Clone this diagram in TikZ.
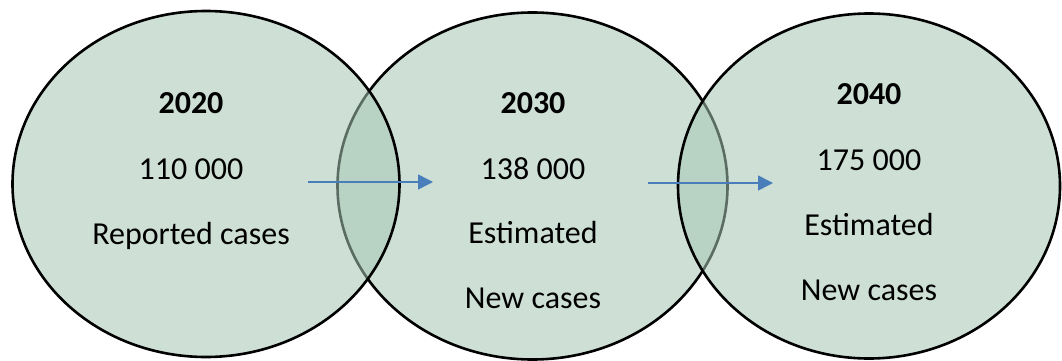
\documentclass[tikz,border=0pt]{standalone}
\usepackage{fontspec}
\setmainfont{Carlito}
\usetikzlibrary{shapes.geometric,arrows.meta}
\definecolor{venn}{RGB}{166,199,182}
\definecolor{arrowblue}{RGB}{74,126,187}
\tikzset{
  bubble/.style={ellipse, draw=black, line width=2.6pt, fill=venn, fill opacity=0.55, inner sep=0pt},
  lbl/.style={anchor=base, font=\fontsize{32}{36}\selectfont, inner sep=0pt},
  yr/.style={lbl, font=\fontsize{32}{36}\selectfont\bfseries},
  flow/.style={draw=arrowblue, line width=1.5pt, -{Triangle[length=15pt,width=15pt]}}
}
\begin{document}
\begin{tikzpicture}[x=1pt,y=-1pt]
\useasboundingbox (0,0) rectangle (1062,361);
\fill[white] (0,0) rectangle (1062,361);
% circles (middle drawn first so outer ones lie over it)
\node[bubble, minimum width=390pt, minimum height=347pt] (c2) at (532.5,186) {};
\node[bubble, minimum width=387pt, minimum height=346pt] (c1) at (206,184) {};
\node[bubble, minimum width=382pt, minimum height=345pt] (c3) at (869,186) {};
% texts
\node[yr]  (y1) at (191,113) {2020};
\node[lbl] (n1) at (191,179) {110 000};
\node[lbl] (d1) at (191,244) {Reported cases};
\node[yr]  (y2) at (533,113) {2030};
\node[lbl] (n2) at (533,179) {138 000};
\node[lbl] (d2) at (533,243) {Estimated};
\node[lbl] (e2) at (533,308) {New cases};
\node[yr]  (y3) at (869,104) {2040};
\node[lbl] (n3) at (869,170) {175 000};
\node[lbl] (d3) at (869,235) {Estimated};
\node[lbl] (e3) at (869,300) {New cases};
% arrows
\coordinate (a1s) at (308,182);
\coordinate (a1e) at (433,182);
\coordinate (a2s) at (648,183);
\coordinate (a2e) at (773,183);
\draw[flow] (a1s) -- (a1e);
\draw[flow] (a2s) -- (a2e);
\end{tikzpicture}
\end{document}
